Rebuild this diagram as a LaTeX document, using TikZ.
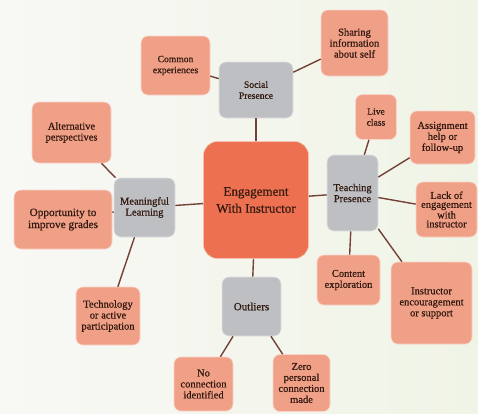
\documentclass[tikz,border=0pt]{standalone}
\usepackage{fontspec}
\setmainfont{Liberation Serif}
\newfontfamily\tnr[FakeBold=0.6]{Liberation Serif}
\definecolor{bgL}{RGB}{248,248,245}
\definecolor{bgR}{RGB}{240,244,230}
\definecolor{salmon}{RGB}{241,160,136}
\definecolor{core}{RGB}{237,112,80}
\definecolor{grayn}{RGB}{190,191,195}
\definecolor{linkc}{RGB}{115,65,55}
\definecolor{txt}{RGB}{50,25,15}
\begin{document}
\begin{tikzpicture}[x=1pt,y=-1pt,
  box/.style={rounded corners=7pt, inner sep=0pt, align=center, text=txt, line width=0.6pt, font=\tnr\fontsize{10.5}{11}\selectfont},
  leaf/.style={box, fill=salmon, draw=white!55!salmon},
  hub/.style={box, fill=grayn, draw=white!55!grayn},
  conn/.style={draw=linkc, line width=1.4pt}]
\useasboundingbox (0,0) rectangle (478,413);
\shade[left color=bgL, right color=bgR] (0,0) rectangle (478,413);

\node[box, fill=core, draw=white!55!core, rounded corners=14pt, minimum width=105pt, minimum height=117pt, font=\tnr\fontsize{13}{17}\selectfont] (core) at (256,200) {Engagement\\With Instructor};

\node[hub, minimum width=74pt, minimum height=56pt, font=\tnr\fontsize{9.6}{11}\selectfont] (social) at (256,90) {Social\\Presence};
\node[hub, minimum width=51pt, minimum height=76pt] (teach) at (352.5,193) {Teaching\\Presence};
\node[hub, minimum width=61pt, minimum height=59pt] (mean) at (144.5,207.5) {Meaningful\\Learning};
\node[hub, minimum width=59pt, minimum height=59pt, font=\tnr\fontsize{11}{12}\selectfont] (out) at (251.5,306.5) {Outliers};

\node[leaf, minimum width=69pt, minimum height=59pt, font=\tnr\fontsize{9.6}{11}\selectfont] (common) at (175.5,65.5) {Common\\experiences};
\node[leaf, minimum width=67pt, minimum height=66pt] (share) at (354.5,43) {Sharing\\information\\about self};

\node[leaf, minimum width=41pt, minimum height=45pt, font=\tnr\fontsize{9.6}{11}\selectfont] (live) at (376,117) {Live\\class};
\node[leaf, minimum width=65pt, minimum height=53pt] (assign) at (442.5,137.5) {Assignment\\help or\\follow-up};
\node[leaf, minimum width=61pt, minimum height=55pt, font=\tnr\fontsize{10.5}{9}\selectfont] (lack) at (446.5,209.5) {Lack of\\engagement\\with\\instructor};
\node[leaf, minimum width=63pt, minimum height=50pt] (content) at (348.5,280) {Content\\exploration};
\node[leaf, minimum width=81pt, minimum height=82pt] (enc) at (431.5,303) {Instructor\\encouragement\\or support};

\node[leaf, minimum width=79pt, minimum height=61pt] (alt) at (71.5,132.5) {Alternative\\perspectives};
\node[leaf, minimum width=98pt, minimum height=59pt, font=\tnr\fontsize{11.3}{12}\selectfont] (opp) at (63,219.5) {Opportunity to\\improve grades};
\node[leaf, minimum width=64pt, minimum height=58pt] (tech) at (108,316) {Technology\\or active\\participation};

\node[leaf, minimum width=59pt, minimum height=54pt] (noconn) at (203.5,384) {No\\connection\\identified};
\node[leaf, minimum width=57pt, minimum height=57pt] (zero) at (301.5,383) {Zero\\personal\\connection\\made};

\draw[conn] (core) -- (social);
\draw[conn] (core) -- (teach);
\draw[conn] (core) -- (mean);
\draw[conn] (core) -- (out);
\draw[conn] (social) -- (common);
\draw[conn] (social) -- (share);
\draw[conn] (teach) -- (live);
\draw[conn] (teach) -- (assign);
\draw[conn] (teach) -- (lack);
\draw[conn] (teach) -- (content);
\draw[conn] (teach) -- (enc);
\draw[conn] (mean) -- (alt);
\draw[conn] (mean) -- (opp);
\draw[conn] (mean) -- (tech);
\draw[conn] (out) -- (noconn);
\draw[conn] (out) -- (zero);
\end{tikzpicture}
\end{document}
